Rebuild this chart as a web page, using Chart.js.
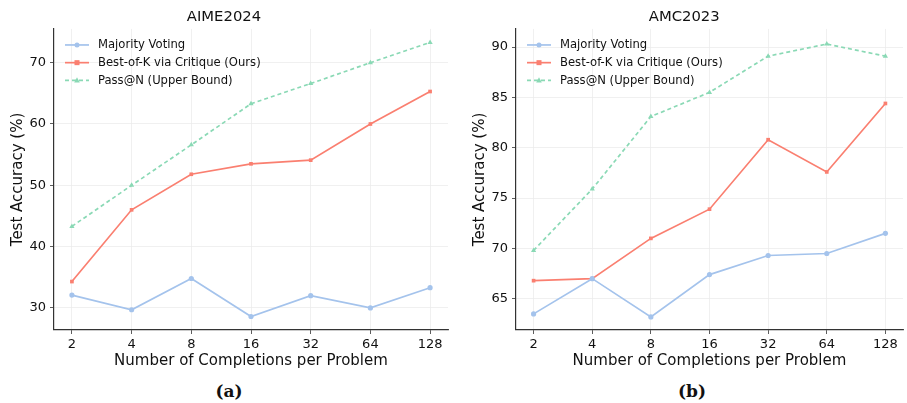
<!DOCTYPE html>
<html>
<head>
<meta charset="utf-8">
<script src="https://cdn.jsdelivr.net/npm/chart.js@4"></script>
<style>
  body { margin: 0; background: #fff; width: 907px; height: 403px; position: relative; overflow: hidden; }
  .wrap { position: absolute; top: 0; height: 375px; }
  .cap { position: absolute; top: 381px; font: bold 17px "DejaVu Serif", serif; color: #111; transform: translateX(-50%); }
</style>
</head>
<body>
<div class="wrap" style="left:0;width:455px"><canvas id="aime"></canvas></div>
<div class="wrap" style="left:462px;width:445px"><canvas id="amc"></canvas></div>
<div class="cap" style="left:229px">(a)</div>
<div class="cap" style="left:692px">(b)</div>
<script>
// -------------------------
// DATA
// -------------------------
const completions = ["2", "4", "8", "16", "32", "64", "128"];
const seriesNames = ["Majority Voting", "Best-of-K via Critique (Ours)", "Pass@N (Upper Bound)"];

const aimeMajority = [32.1, 29.7, 34.8, 28.6, 32.0, 30.0, 33.3];
const aimeBestOfK  = [34.3, 46.0, 51.8, 53.5, 54.1, 60.0, 65.3];
const aimePassN    = [43.3, 50.0, 56.6, 63.3, 66.6, 70.0, 73.3];
const aimeYTicks   = [30, 40, 50, 60, 70];

const amcMajority = [63.5, 67.0, 63.2, 67.4, 69.3, 69.5, 71.5];
const amcBestOfK  = [66.8, 67.0, 71.0, 73.9, 80.8, 77.6, 84.4];
const amcPassN    = [69.8, 75.9, 83.1, 85.5, 89.1, 90.3, 89.1];
const amcYTicks   = [65, 70, 75, 80, 85, 90];

// -------------------------
// Styles
// -------------------------
const COLORS = ['#a4c3ec', '#fa7f70', '#8ad9b5'];
const MARKERS = ['circle', 'rect', 'triangle'];
const DASHES = [[], [], [4, 3]];
const FONT = "'DejaVu Sans', sans-serif";

// legend drawn inside the plot, top-left (matplotlib style)
const innerLegend = {
  id: 'innerLegend',
  afterDatasetsDraw(chart) {
    const ctx = chart.ctx, a = chart.chartArea;
    ctx.save();
    ctx.font = `11.6px ${FONT}`;
    ctx.textBaseline = 'middle';
    seriesNames.forEach((name, i) => {
      const y = a.top + 16 + i * 17.7;
      const x0 = a.left + 11, x1 = a.left + 35;
      ctx.strokeStyle = COLORS[i];
      ctx.lineWidth = 1.7;
      ctx.setLineDash(DASHES[i]);
      ctx.beginPath(); ctx.moveTo(x0, y); ctx.lineTo(x1, y); ctx.stroke();
      ctx.setLineDash([]);
      ctx.fillStyle = COLORS[i];
      const mx = (x0 + x1) / 2;
      if (i === 0) { ctx.beginPath(); ctx.arc(mx, y, 2.5, 0, Math.PI * 2); ctx.fill(); }
      else if (i === 1) { ctx.fillRect(mx - 2.5, y - 2.5, 5, 5); }
      else { ctx.beginPath(); ctx.moveTo(mx, y - 3); ctx.lineTo(mx + 2.8, y + 2.2); ctx.lineTo(mx - 2.8, y + 2.2); ctx.closePath(); ctx.fill(); }
      ctx.fillStyle = '#111';
      ctx.fillText(name, a.left + 44, y + 0.5);
    });
    ctx.restore();
  }
};

function makeChart(id, title, series, yMin, yMax, yTicks, rightPad) {
  const datasets = series.map((d, i) => ({
    label: seriesNames[i],
    data: d.map((v, k) => ({ x: k, y: v })),
    borderColor: COLORS[i],
    backgroundColor: COLORS[i],
    borderWidth: 1.7,
    borderDash: DASHES[i],
    pointStyle: MARKERS[i],
    pointRadius: i === 2 ? 3 : 2.6,
    pointBorderWidth: 0,
    tension: 0
  }));
  return new Chart(document.getElementById(id), {
    type: 'line',
    data: { datasets },
    plugins: [innerLegend],
    options: {
      responsive: true,
      maintainAspectRatio: false,
      animation: false,
      layout: { padding: { left: 0, right: rightPad, top: 0, bottom: 0 } },
      plugins: {
        legend: { display: false },
        tooltip: { enabled: false },
        title: { display: true, text: title, color: '#111', font: { family: FONT, size: 14.8, weight: 'normal' }, padding: { top: 7.8, bottom: 3.4 } }
      },
      scales: {
        x: {
          type: 'linear', min: -0.3, max: 6.3,
          afterBuildTicks: s => { s.ticks = completions.map((c, k) => ({ value: k })); },
          afterFit: s => { s.height = 45; },
          ticks: { callback: (v) => completions[v], color: '#111', font: { family: FONT, size: 13 }, padding: 3, maxRotation: 0 },
          grid: { color: '#ececec', lineWidth: 0.8, tickColor: '#333', tickLength: 4 },
          border: { color: '#333', width: 1.2 },
          title: { display: true, text: 'Number of Completions per Problem', color: '#111', font: { family: FONT, size: 15 }, padding: { top: 0, bottom: 5 } }
        },
        y: {
          min: yMin, max: yMax,
          afterBuildTicks: s => { s.ticks = yTicks.map(v => ({ value: v })); },
          afterFit: s => { s.width = 54; },
          ticks: { color: '#111', font: { family: FONT, size: 13 }, padding: 4 },
          grid: { color: '#ececec', lineWidth: 0.8, tickColor: '#333', tickLength: 4 },
          border: { color: '#333', width: 1.2 },
          title: { display: true, text: 'Test Accuracy (%)', color: '#111', font: { family: FONT, size: 15 }, padding: { top: 9, bottom: 0 } }
        }
      }
    }
  });
}

makeChart('aime', 'AIME2024', [aimeMajority, aimeBestOfK, aimePassN], 26.4, 75.5, aimeYTicks, 7);
makeChart('amc', 'AMC2023', [amcMajority, amcBestOfK, amcPassN], 61.9, 91.8, amcYTicks, 0.5);
</script>
</body>
</html>
